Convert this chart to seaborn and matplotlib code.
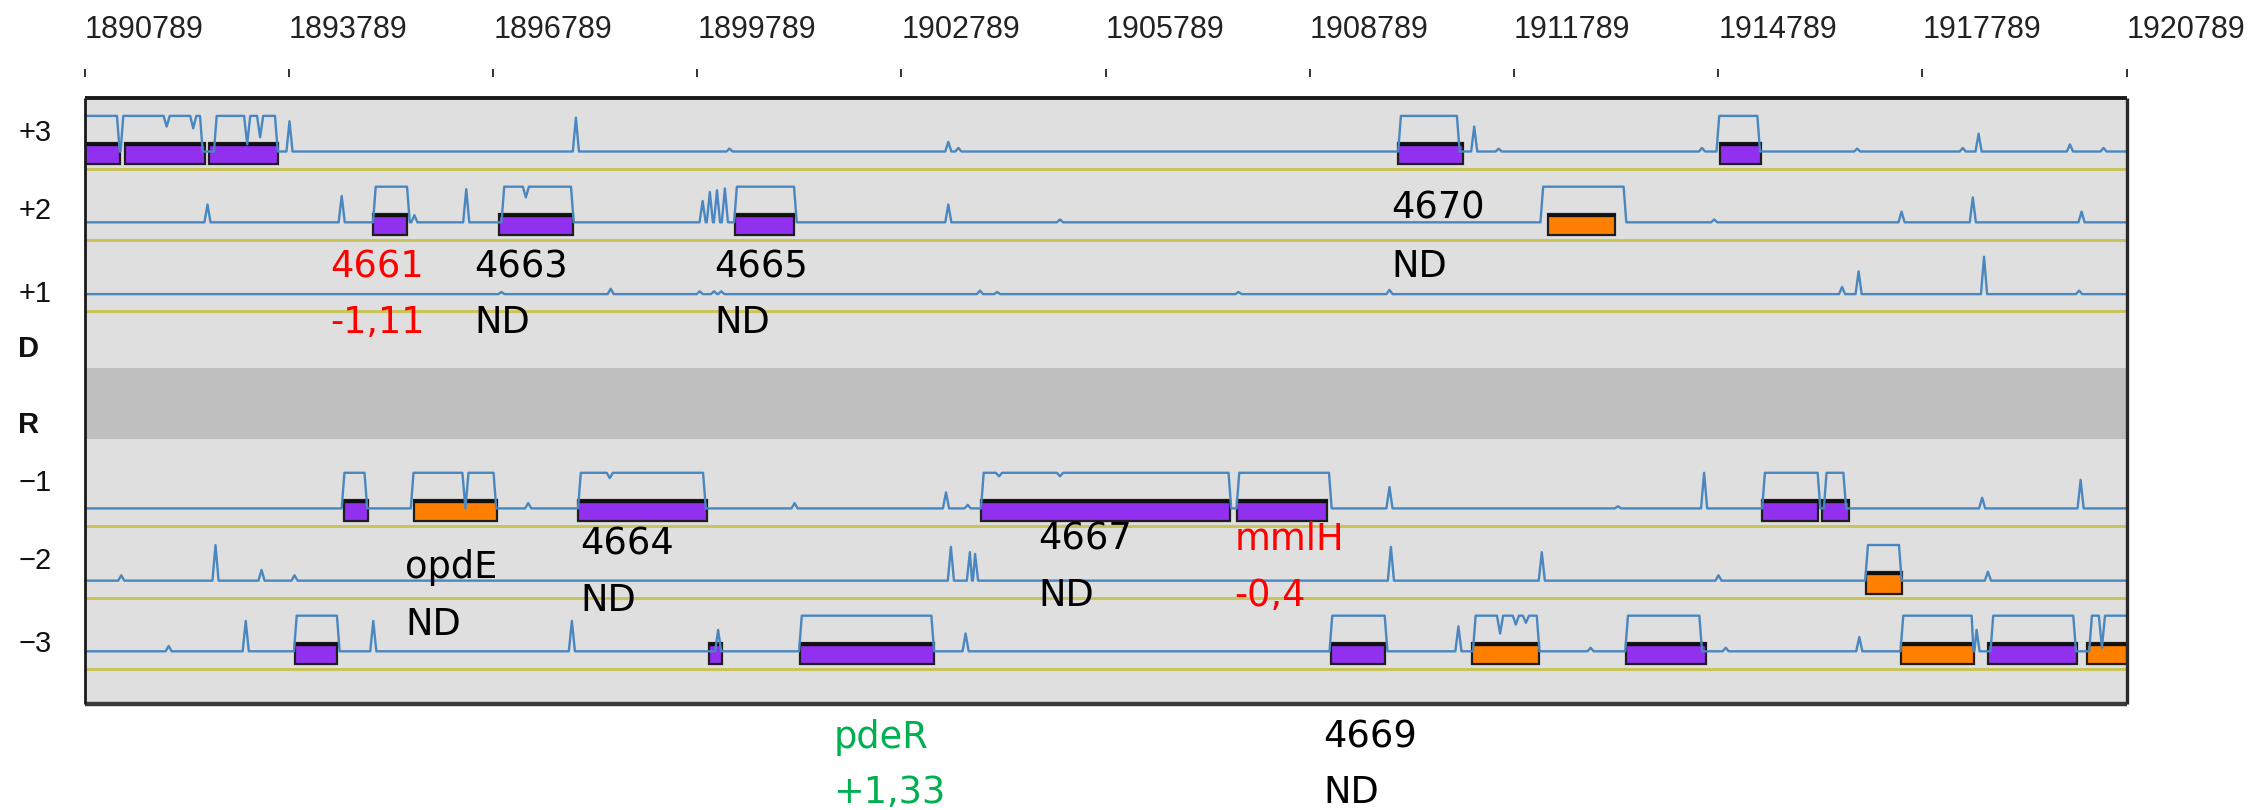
import numpy as np
import pandas as pd
import matplotlib
matplotlib.use("Agg")
import matplotlib.pyplot as plt
import seaborn as sns
from matplotlib.patches import Rectangle
from matplotlib.transforms import blended_transform_factory

sns.set_theme(style="white")
plt.rcParams['font.family'] = ['DejaVu Sans']

# ------------------------------------------------------------------ data
TICK_POS = [1890789, 1893789, 1896789, 1899789, 1902789, 1905789,
            1908789, 1911789, 1914789, 1917789, 1920789]
TICK_LABELS = [str(t) for t in TICK_POS]

FRAMES = ['+3', '+2', '+1', '-1', '-2', '-3']
ROW_LABELS = ['+3', '+2', '+1', 'D', 'R', '-1', '-2', '-3']

# predicted genes (frame, start, end, kind: p = purple, o = orange)
GENE_FRAME = ['+3', '+3', '+3', '+3', '+3',
              '+2', '+2', '+2', '+2',
              '-1', '-1', '-1', '-1', '-1', '-1', '-1',
              '-2',
              '-3', '-3', '-3', '-3', '-3', '-3', '-3', '-3', '-3']
GENE_START = [1890789, 1891380, 1892619, 1910081, 1914814,
              1895028, 1896880, 1900346, 1912281,
              1894600, 1895619, 1898030, 1903957, 1907717, 1915439, 1916309,
              1916955,
              1893871, 1899964, 1901292, 1909097, 1911170, 1913434, 1917468, 1918752, 1920215]
GENE_END = [1891308, 1892552, 1893633, 1911035, 1915418,
            1895526, 1897963, 1901212, 1913267,
            1894954, 1896844, 1899926, 1907609, 1909034, 1916250, 1916708,
            1917483,
            1894494, 1900156, 1903266, 1909889, 1912154, 1914603, 1918547, 1920054, 1920789]
GENE_KIND = ['p', 'p', 'p', 'p', 'p',
             'p', 'p', 'p', 'o',
             'p', 'o', 'p', 'p', 'p', 'p', 'p',
             'o',
             'p', 'p', 'p', 'p', 'o', 'p', 'o', 'p', 'o']

# coding-potential plateaus
PLAT_FRAME = ['+3', '+3', '+3', '+3', '+3',
              '+2', '+2', '+2', '+2',
              '-1', '-1', '-1', '-1', '-1', '-1', '-1',
              '-2',
              '-3', '-3', '-3', '-3', '-3', '-3', '-3', '-3']
PLAT_START = [1890700, 1891355, 1892727, 1910127, 1914804,
              1895064, 1896952, 1900370, 1912217,
              1894604, 1895619, 1898077, 1903997, 1907752, 1915475, 1916381,
              1916989,
              1893903, 1901324, 1909118, 1911225, 1913463, 1917508, 1918830, 1920280]
PLAT_END = [1891262, 1892482, 1893584, 1910950, 1915364,
            1895524, 1897933, 1901210, 1913399,
            1894899, 1896795, 1899874, 1907594, 1909070, 1916250, 1916628,
            1917445,
            1894494, 1903228, 1909889, 1912123, 1914512, 1918513, 1920006, 1920900]

# dips inside plateaus (fraction of plateau height)
DIP_FRAME = ['+3', '+3', '+3', '+3', '+2', '-1', '-1', '-1', '-1', '-3', '-3', '-3', '-3']
DIP_POS = [1891992, 1892383, 1893175, 1893365, 1897270, 1896382, 1898503, 1904222,
           1905118, 1911584, 1911816, 1911964, 1920427]
DIP_DEPTH = [0.3, 0.35, 0.8, 0.6, 0.3, 1.0, 0.15, 0.1, 0.1, 0.5, 0.25, 0.2, 0.9]

# isolated peaks (fraction of plateau height)
SPIKE_FRAME = (['+3'] * 13 + ['+2'] * 14 + ['+1'] * 13 + ['-1'] * 9 +
               ['-2'] * 11 + ['-3'] * 11)
SPIKE_POS = [1893797, 1898005, 1900262, 1903477, 1903625, 1911204, 1911563,
             1914551, 1916831, 1918382, 1918615, 1919957, 1920451,
             1892592, 1894564, 1895632, 1896394, 1899867, 1899973, 1900078,
             1900194, 1903477, 1905118, 1914730, 1917483, 1918530, 1920128,
             1896911, 1898516, 1899825, 1900036, 1900141, 1903942, 1904195,
             1907742, 1909959, 1916609, 1916852, 1918695, 1920092,
             1897304, 1901218, 1903443, 1903762, 1909959, 1913316, 1914582,
             1918667, 1920114,
             1891325, 1892710, 1893386, 1893871, 1903515, 1903794, 1903870,
             1909980, 1912197, 1914793, 1918752,
             1892022, 1893154, 1895028, 1897946, 1900095, 1903731, 1910972,
             1912914, 1914899, 1916862, 1918585]
SPIKE_H = [0.85, 0.95, 0.08, 0.27, 0.1, 0.7, 0.08,
           0.1, 0.08, 0.1, 0.5, 0.2, 0.1,
           0.5, 0.74, 0.2, 0.93, 0.6, 0.85, 0.9,
           0.95, 0.5, 0.08, 0.08, 0.3, 0.7, 0.3,
           0.06, 0.15, 0.08, 0.08, 0.08, 0.1, 0.06,
           0.06, 0.12, 0.2, 0.64, 1.05, 0.1,
           0.15, 0.15, 0.45, 0.1, 0.6, 0.06, 1.0,
           0.3, 0.8,
           0.15, 1.0, 0.3, 0.15, 0.95, 0.8, 0.75,
           0.95, 0.8, 0.15, 0.25,
           0.15, 0.85, 0.85, 0.85, 0.6, 0.5, 0.7,
           0.1, 0.1, 0.4, 0.6]

# annotations (two lines each)
ANN_LINE1 = ['4661', '4663', '4665', '4670', 'opdE', '4664', '4667', 'mmlH', 'pdeR', '4669']
ANN_LINE2 = ['-1,11', 'ND', 'ND', 'ND', 'ND', 'ND', 'ND', '-0,4', '+1,33', 'ND']
ANN_STATUS = ['down', 'nd', 'nd', 'nd', 'nd', 'nd', 'nd', 'down', 'up', 'nd']

# ------------------------------------------------------------------ layout / style
W, H = 2253, 810
REF_W, REF_H = 1568, 564          # layout measured on this grid
XMIN, XMAX = TICK_POS[0], TICK_POS[-1]
YELLOW_Y = {'+3': 117.5, '+2': 166.8, '+1': 216.8, '-1': 366.0, '-2': 416.3, '-3': 465.5}
LABEL_Y = [92.5, 147.0, 204.5, 243.0, 296.0, 336.3, 390.6, 448.3]
BASE_OFF, AMP = 12.0, 24.8
BOX_TOP_OFF, BOX_BOT_OFF = 18.0, 3.0
FRAME_TOP, FRAME_BOT = 68.5, 490.0
BAND_TOP, BAND_BOT = 256.0, 305.5
AX_TOP, AX_BOT = 53.4, 491.5
ANN_X = [1894399, 1896510, 1900036, 1909980, 1895497, 1898071, 1904799, 1907679, 1901788, 1908988]
ANN_Y1 = [193.0, 193.0, 193.0, 152.0, 402.4, 386.3, 382.8, 382.8, 520.5, 520.5]
ANN_Y2 = [232.0, 232.0, 232.0, 192.6, 442.0, 425.7, 422.0, 422.0, 559.0, 559.0]
STATUS_COLOR = {'down': '#FF0000', 'up': '#00B050', 'nd': '#000000'}
KIND_COLOR = {'p': '#9130EE', 'o': '#FF8000'}
BLUE = '#4A87C0'
YELLOW = '#C9C45C'
RAMP, SPW, DIPW = 40, 45, 45

fig = plt.figure(figsize=(W / 100, H / 100), dpi=100)
ax = fig.add_axes([59 / REF_W, 1 - AX_BOT / REF_H, 1421 / REF_W, (AX_BOT - AX_TOP) / REF_H])
ax.set_xlim(XMIN, XMAX)
ax.set_ylim(AX_BOT, AX_TOP)
for s in ax.spines.values():
    s.set_visible(False)
ax.set_facecolor('white')

# background panel & D/R band
ax.add_patch(Rectangle((XMIN, FRAME_TOP), XMAX - XMIN, FRAME_BOT - FRAME_TOP,
                       facecolor='#DFDFDF', edgecolor='none', zorder=0))
ax.add_patch(Rectangle((XMIN, BAND_TOP), XMAX - XMIN, BAND_BOT - BAND_TOP,
                       facecolor='#BFBFBF', edgecolor='none', zorder=0.5))

# yellow frame lines
for f in FRAMES:
    ax.hlines(YELLOW_Y[f], XMIN, XMAX, color=YELLOW, lw=2.2, zorder=1)

# gene boxes
genes = pd.DataFrame({'frame': GENE_FRAME, 'start': GENE_START, 'end': GENE_END, 'kind': GENE_KIND})
for _, g in genes.iterrows():
    yb = YELLOW_Y[g.frame]
    top, bot = yb - BOX_TOP_OFF, yb - BOX_BOT_OFF
    ax.barh(y=(top + bot) / 2, width=g.end - g.start, left=g.start, height=bot - top,
            color=KIND_COLOR[g.kind], edgecolor='#1E1E1E', linewidth=1.6, zorder=2)
    ax.hlines(top + 0.7, g.start, g.end, color='#101010', lw=2.4, zorder=2.1)

# coding-potential profiles
rows = []
for f in FRAMES:
    base = YELLOW_Y[f] - BASE_OFF
    top = base - AMP
    pts = [(XMIN - 500, base), (XMAX + 500, base)]
    for pf, s, e in zip(PLAT_FRAME, PLAT_START, PLAT_END):
        if pf == f:
            pts += [(s - RAMP, base), (s, top), (e, top), (e + RAMP, base)]
    for sf, p, h in zip(SPIKE_FRAME, SPIKE_POS, SPIKE_H):
        if sf == f:
            pts += [(p - SPW, base), (p, base - h * AMP), (p + SPW, base)]
    for df_, p, d in zip(DIP_FRAME, DIP_POS, DIP_DEPTH):
        if df_ == f:
            pts += [(p - DIPW, top), (p, top + d * AMP), (p + DIPW, top)]
    pts.sort(key=lambda t: t[0])
    for x, y in pts:
        rows.append({'frame': f, 'pos': x, 'y': y})
prof = pd.DataFrame(rows)
sns.lineplot(data=prof, x='pos', y='y', units='frame', estimator=None, sort=False,
             color=BLUE, lw=1.7, ax=ax, zorder=3)

# frame border
kw = dict(clip_on=False, zorder=5, solid_capstyle='butt')
ax.plot([XMIN, XMAX], [FRAME_TOP, FRAME_TOP], color='#1A1A1A', lw=2.8, **kw)
ax.plot([XMIN, XMAX], [FRAME_BOT, FRAME_BOT], color='#3A3A3A', lw=3.2, **kw)
ax.plot([XMIN, XMIN], [FRAME_TOP, FRAME_BOT], color='#1A1A1A', lw=2.0, **kw)
ax.plot([XMAX, XMAX], [FRAME_TOP, FRAME_BOT], color='#2A2A2A', lw=2.4, **kw)

# ticks on top
ax.xaxis.tick_top()
ax.set_xticks(TICK_POS)
ax.set_xticklabels(TICK_LABELS, ha='left', fontsize=22, color='#222222',
                   fontfamily=['Liberation Sans', 'DejaVu Sans'])
ax.tick_params(axis='x', which='both', top=True, bottom=False, labeltop=True,
               labelbottom=False, length=6, width=1.4, color='#333333', pad=17,
               direction='out')
ax.set_yticks([])
ax.set_xlabel('')
ax.set_ylabel('')

# row labels on the left
trans = blended_transform_factory(ax.transAxes, ax.transData)
for lab, y in zip(ROW_LABELS, LABEL_Y):
    ax.text(-0.0326, y, lab.replace('-', '\u2212'), transform=trans, ha='left', va='center',
            fontsize=21, color='#111111', fontfamily=['Liberation Sans', 'DejaVu Sans'],
            fontweight='bold' if lab in ('D', 'R') else 'normal', clip_on=False)

# gene annotations
for t1, t2, st, x, y1, y2 in zip(ANN_LINE1, ANN_LINE2, ANN_STATUS, ANN_X, ANN_Y1, ANN_Y2):
    c = STATUS_COLOR[st]
    ax.text(x, y1, t1, color=c, fontsize=26.5, ha='left', va='baseline', clip_on=False, zorder=6)
    ax.text(x, y2, t2, color=c, fontsize=26.5, ha='left', va='baseline', clip_on=False, zorder=6)

fig.savefig('out.png', dpi=100, facecolor='white')
